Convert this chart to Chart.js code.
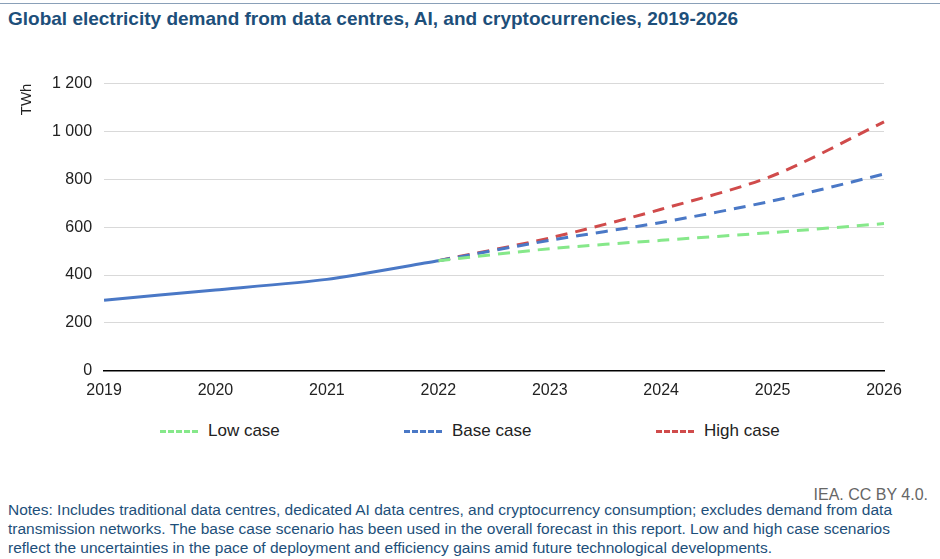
<!DOCTYPE html>
<html><head><meta charset="utf-8">
<script src="https://cdn.jsdelivr.net/npm/chart.js@4"></script>
<style>
body{margin:0;width:940px;height:559px;background:#fff;font-family:Arial,"Liberation Sans",sans-serif;position:relative;overflow:hidden}
#topline{position:absolute;left:0;right:0;top:3px;height:1px;background:#8aa0b8}
#title{position:absolute;left:8px;top:8px;font-size:19px;font-weight:bold;color:#1d4f7a}
#wrap{position:absolute;left:14px;top:62px;width:900px;height:340px}
#leg{position:absolute;top:421px;left:0;width:940px;font-size:17px;color:#222}
.li{position:absolute;display:flex;align-items:center}
.li span.d{display:inline-block;width:38px;height:0;border-top:3px dashed;margin-right:10px}
#src{position:absolute;right:12px;top:486px;font-size:16px;color:#666}
#notes{position:absolute;left:8px;top:492px;width:900px;font-size:15.5px;color:#1d4f7a;line-height:19px}
</style></head><body>
<div id="topline"></div>
<div id="title">Global electricity demand from data centres, AI, and cryptocurrencies, 2019-2026</div>
<div id="wrap"><canvas id="c"></canvas></div>
<div id="leg">
<div class="li" style="left:160px"><span class="d" style="border-color:#86e88a"></span>Low case</div>
<div class="li" style="left:404px"><span class="d" style="border-color:#4a78c6"></span>Base case</div>
<div class="li" style="left:656px"><span class="d" style="border-color:#d04b4b"></span>High case</div>
</div>
<div id="src">IEA. CC BY 4.0.</div>
<div id="notes" style="top:500px">Notes: Includes traditional data centres, dedicated AI data centres, and cryptocurrency consumption; excludes demand from data transmission networks. The base case scenario has been used in the overall forecast in this report. Low and high case scenarios reflect the uncertainties in the pace of deployment and efficiency gains amid future technological developments.</div>
<script>
const years=["2019","2020","2021","2022","2023","2024","2025","2026"];
const historical=[295,338,382,460,null,null,null,null];
const lowCase=[null,null,null,460,510,545,578,615];
const baseCase=[null,null,null,460,545,620,710,822];
const highCase=[null,null,null,460,555,675,815,1040];
const yTicks=[0,200,400,600,800,1000,1200];
const fmt=v=>String(v).replace(/\B(?=(\d{3})+(?!\d))/g,' ');
new Chart(document.getElementById('c'),{type:'line',
data:{labels:years,datasets:[
{data:historical,borderColor:'#4a78c6',borderWidth:3,pointRadius:0,tension:0.2},
{data:lowCase,borderColor:'#86e88a',borderWidth:3,borderDash:[12,8],pointRadius:0,tension:0.3},
{data:baseCase,borderColor:'#4a78c6',borderWidth:3,borderDash:[12,8],pointRadius:0,tension:0.3},
{data:highCase,borderColor:'#d04b4b',borderWidth:3,borderDash:[12,8],pointRadius:0,tension:0.3}]},
options:{responsive:true,maintainAspectRatio:false,animation:false,
layout:{padding:{right:30,top:0}},
plugins:{legend:{display:false},tooltip:{enabled:false}},
scales:{
x:{offset:false,grid:{display:false},border:{color:'#000',width:1.5},ticks:{color:'#222',font:{size:16},padding:2,maxRotation:0}},
y:{min:0,max:1200,afterBuildTicks:a=>{a.ticks=yTicks.map(v=>({value:v}));},
grid:{color:'#d9d9d9',drawTicks:false},border:{display:false},
ticks:{color:'#222',font:{size:16},padding:12,callback:v=>fmt(v)},
title:{display:true,align:'end',text:'TWh',color:'#222',font:{size:15},padding:{bottom:4}}}}}});
</script>
</body></html>
